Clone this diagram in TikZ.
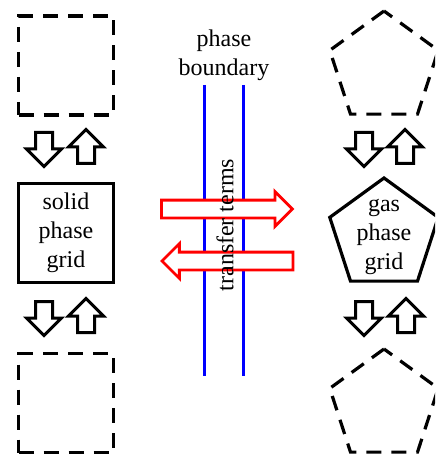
\documentclass[tikz,border=0pt]{standalone}
\usepackage{fontspec}
\setmainfont{Liberation Serif}
\usetikzlibrary{shapes.geometric, shapes.arrows, positioning}

\tikzset{
  gridbox/.style={draw, line width=1.6pt, minimum width=47.5pt, minimum height=49.5pt, inner sep=0pt, align=center},
  ghostbox/.style={gridbox, dash pattern=on 7.5pt off 5pt},
  gridpent/.style={draw, regular polygon, regular polygon sides=5, minimum size=57pt, inner sep=0pt, line width=1.6pt},
  ghostpent/.style={gridpent, dash pattern=on 7.5pt off 5pt},
  gridtext/.style={align=center, inner sep=0pt},
  swaparrow/.style={draw, fill=white, single arrow, line width=1.5pt, inner sep=3.5pt, single arrow head extend=4.5pt, minimum height=17pt},
  transferarrow/.style={draw=red, fill=white, single arrow, line width=1.4pt, inner sep=3.75pt, single arrow head extend=4.25pt, minimum height=65.5pt},
  boundaryline/.style={draw=blue, line width=1.5pt}
}

\begin{document}
\begin{tikzpicture}[x=0.5pt, y=-0.5pt, font=\fontsize{12}{14.5}\selectfont]
    \useasboundingbox (0,0) rectangle (435,454);
    \clip (0,0) rectangle (435,454);

    % Phase boundary
    \draw[boundaryline] (204,85) -- (204,376);
    \draw[boundaryline] (243,85) -- (243,376);
    \node[gridtext] (boundlabel) at (224,55) {phase\\boundary};

    % Solid phase grids
    \node[ghostbox] (solidtop) at (66,65.5) {};
    \node[gridbox] (solid) at (66,233) {solid\\phase\\grid};
    \node[ghostbox] (solidbot) at (66,403) {};

    % Gas phase grids
    \node[ghostpent] (gastop) at (384,68) {};
    \node[gridpent] (gas) at (384,235) {};
    \node[gridtext] (gaslabel) at ([yshift=-1pt]gas.center) {gas\\phase\\grid};
    \node[ghostpent] (gasbot) at (384,406) {};

    % Exchange between neighbouring cells
    \foreach \n/\x/\y in {sa/44/131, sb/44/300, ga/364/131, gb/364/300}
        \node[swaparrow, rotate=-90, anchor=tail] (down-\n) at (\x,\y) {};
    \foreach \n/\x/\y in {sa/86/165, sb/86/334, ga/405/165, gb/406/334}
        \node[swaparrow, rotate=90, anchor=tail] (up-\n) at (\x,\y) {};

    % Transfer terms
    \node[transferarrow, anchor=tail] (togas) at (160,209) {};
    \node[transferarrow, rotate=180, anchor=tip] (tosolid) at (160,261) {};
    \node[gridtext, rotate=90] (transfer) at (225,225) {transfer terms};
\end{tikzpicture}
\end{document}
